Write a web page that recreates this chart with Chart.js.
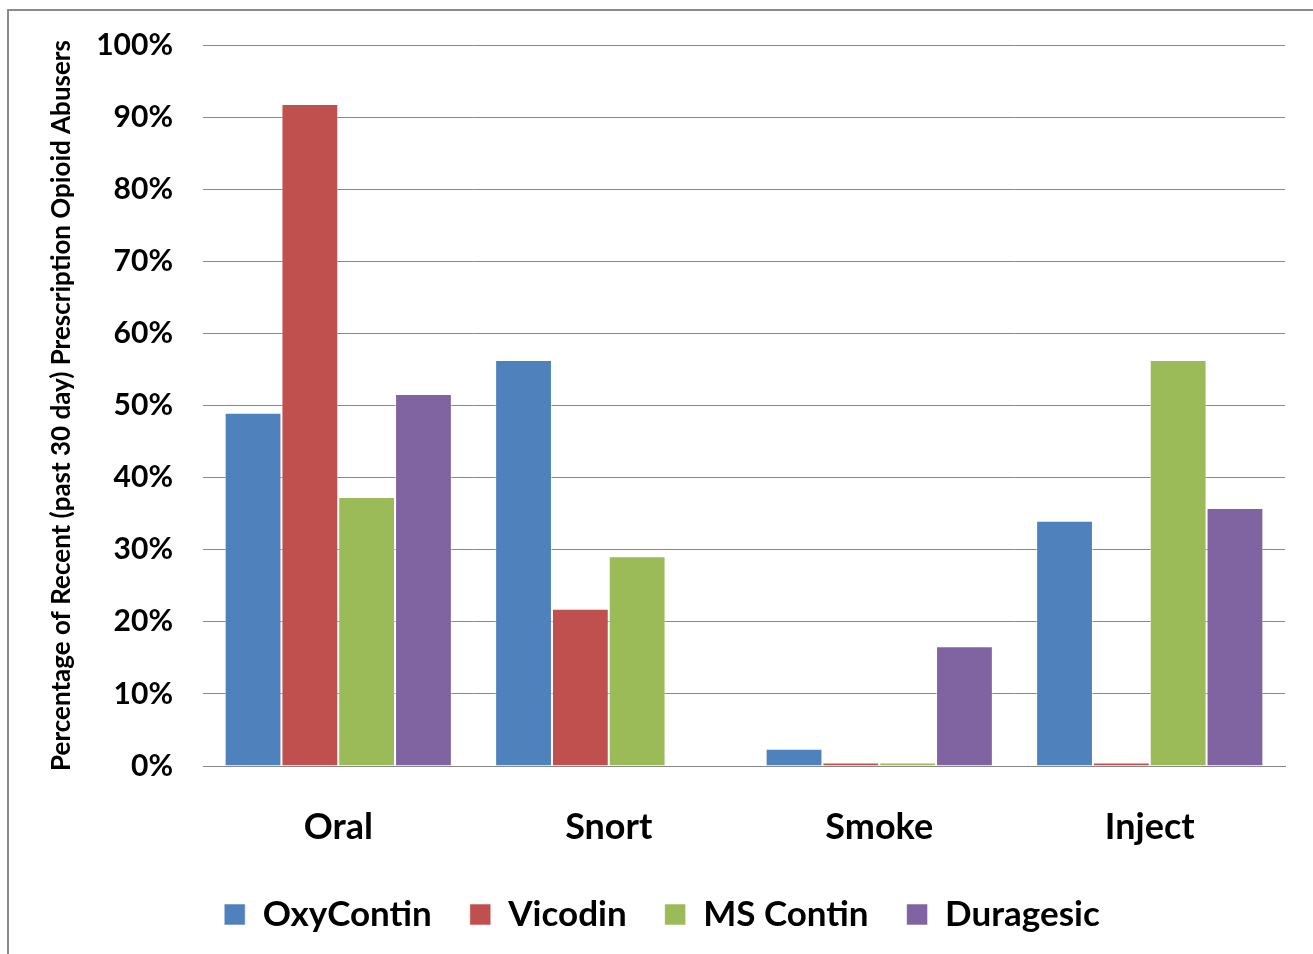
<!doctype html>
<html lang="en">
<head>
  <meta charset="utf-8">
  <title>Prescription Opioid Abuse by Route</title>
  <style>
    * { margin: 0; padding: 0; }
    body { width: 1313px; height: 954px; overflow: hidden; background: #fff; }
    .frame {
      position: absolute; left: 7px; top: 9px;
      width: 1330px; height: 980px;
      border: 2px solid #8a8a8a;
    }
    .chartBox { position: absolute; left: 0; top: 0; width: 1313px; height: 954px; }
  </style>
</head>
<body>
  <div class="frame"></div>
  <div class="chartBox"><canvas id="myChart"></canvas></div>
  <script src="https://cdn.jsdelivr.net/npm/chart.js/dist/chart.umd.min.js"></script>
  <script>
    // data
    const routes = ['Oral', 'Snort', 'Smoke', 'Inject'];
    const oxyContin = [49, 56.3, 2.4, 34];
    const vicodin = [91.8, 21.8, 0.5, 0.5];
    const msContin = [37.3, 29.1, 0.5, 56.3];
    const duragesic = [51.6, 0, 16.6, 35.8];
    const yTicks = [0, 10, 20, 30, 40, 50, 60, 70, 80, 90, 100];

    const FONT = 'Lato, "Open Sans", sans-serif';
    const barStyle = { borderColor: 'rgba(255,255,255,0.55)', borderWidth: 1, categoryPercentage: 0.84, barPercentage: 1 };

    const data = {
      labels: routes,
      datasets: [
        { label: 'OxyContin', data: oxyContin, backgroundColor: '#4F81BD', ...barStyle },
        { label: 'Vicodin', data: vicodin, backgroundColor: '#C0504D', ...barStyle },
        { label: 'MS Contin', data: msContin, backgroundColor: '#9BBB59', ...barStyle },
        { label: 'Duragesic', data: duragesic, backgroundColor: '#8064A2', ...barStyle }
      ]
    };

    const config = {
      type: 'bar',
      data,
      options: {
        responsive: false,
        animation: false,
        layout: { padding: { left: 39, right: 28, top: 45, bottom: 12 } },
        plugins: {
          tooltip: { enabled: false },
          legend: {
            position: 'bottom',
            labels: {
              color: '#000',
              boxWidth: 21,
              boxHeight: 21,
              padding: 38,
              font: { family: FONT, size: 35, weight: 'bold' }
            }
          }
        },
        scales: {
          y: {
            min: 0,
            max: 100,
            afterBuildTicks: (scale) => { scale.ticks = yTicks.map(v => ({ value: v })); },
            afterFit: (scale) => {
              scale.width = 164;
              scale.paddingTop = 0;
              scale.paddingBottom = 0;
            },
            ticks: {
              color: '#000',
              padding: 30,
              font: { family: FONT, size: 30, weight: 'bold' },
              callback: (value) => value + '%'
            },
            grid: { color: '#888', lineWidth: 1, drawTicks: false },
            border: { display: false },
            title: {
              display: true,
              text: 'Percentage of Recent (past 30 day) Prescription Opioid Abusers',
              color: '#000',
              padding: { top: 7, bottom: 0 },
              font: { family: FONT, size: 26, weight: 'bold' }
            }
          },
          x: {
            afterFit: (scale) => { scale.height = 93; },
            ticks: {
              color: '#000',
              padding: 40,
              font: { family: FONT, size: 36, weight: 'bold' }
            },
            grid: { display: false, drawTicks: false },
            border: { color: '#888', width: 1 }
          }
        }
      }
    };

    const canvas = document.getElementById('myChart');
    canvas.width = 1313;
    canvas.height = 954;
    const myChart = new Chart(canvas, config);
  </script>
</body>
</html>
